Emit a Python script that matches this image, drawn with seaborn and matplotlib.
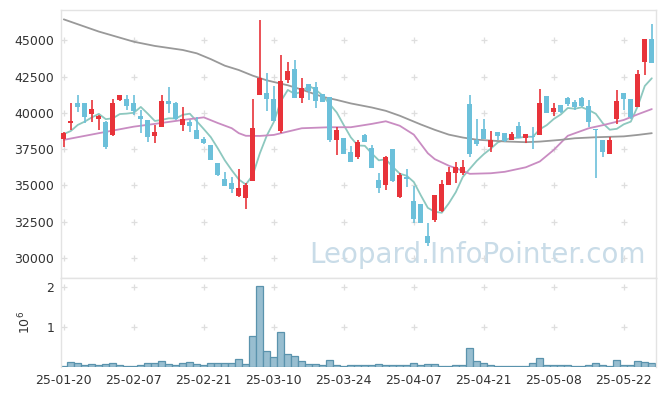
#!/usr/bin/env python3
"""
Candlestick chart with moving averages and volume.
"""
import matplotlib
matplotlib.use('Agg')
import matplotlib.pyplot as plt
import numpy as np
import pandas as pd
import seaborn as sns

# KRX trading days (market holidays removed)
holidays = ['2025-01-27', '2025-01-28', '2025-01-29', '2025-01-30',
            '2025-03-03', '2025-05-01', '2025-05-05', '2025-05-06']
trade_days = pd.bdate_range('2025-01-20', '2025-05-28', freq='C', holidays=holidays)
day_labels = list(trade_days.strftime('%y-%m-%d'))

open_price = [38171, 39329, 40648, 40648, 39954, 39600, 39375, 38495, 40857, 40972,
              40648, 39815, 39490, 38426, 39051, 40845, 40685, 39171, 39377, 38827,
              38207, 37794, 36556, 35454, 35179, 34239, 34101, 35340, 41258, 41350,
              40960, 38781, 42290, 43002, 41006, 41969, 41763, 41281, 41075, 38139,
              38253, 37336, 36992, 38483, 37565, 35386, 34996, 37496, 34238, 35569,
              33940, 33711, 31532, 32633, 33230, 35041, 35845, 35845, 40616, 38138,
              38895, 37680, 38689, 38620, 38138, 39101, 38253, 38414, 38482, 41166,
              40042, 40524, 41029, 40754, 41006, 40478, 38873, 38138, 37152, 39560,
              41350, 40960, 40432, 43529, 45089]
high_price = [38704, 40671, 41250, 40700, 40903, 39850, 39420, 40972, 41250, 41250,
              41250, 40208, 39520, 39167, 41204, 41763, 40777, 40433, 39515, 39744,
              38368, 37820, 36580, 35913, 35569, 36120, 35156, 40937, 46397, 42726,
              41855, 43965, 43529, 43644, 42428, 41990, 42130, 41300, 41100, 39010,
              38270, 37725, 38138, 38551, 37794, 35844, 37037, 37510, 35890, 36120,
              34927, 33720, 32403, 34353, 35386, 36300, 36601, 36762, 41212, 39606,
              39606, 38760, 38700, 38630, 38712, 39377, 38528, 39056, 41625, 41180,
              40662, 40530, 41120, 40891, 41120, 40891, 38890, 38150, 38368, 41579,
              41360, 40970, 42955, 45089, 46098]
low_price = [37662, 38819, 40093, 39282, 39398, 38830, 37477, 38403, 40820, 40208,
             39861, 38634, 37986, 37894, 39000, 39974, 39515, 38781, 38712, 38180,
             37863, 36760, 35661, 34950, 34491, 34200, 33367, 35340, 41258, 40157,
             39469, 38597, 42038, 41052, 40662, 40891, 40318, 40777, 38001, 37083,
             37175, 36647, 36808, 38024, 36188, 34468, 34697, 35271, 34124, 34881,
             32403, 32403, 30798, 32449, 33138, 34996, 35156, 35730, 36945, 37748,
             38230, 37335, 38138, 38024, 38138, 38253, 37909, 37496, 38482, 39973,
             39790, 39973, 40478, 40203, 40432, 39056, 35500, 36991, 37152, 39239,
             40203, 39560, 40432, 42612, 43460]
close_price = [38588, 39444, 40370, 39745, 40278, 39815, 37616, 40671, 41204, 40440,
               40116, 39606, 38333, 38704, 40833, 40639, 39561, 39584, 39102, 38207,
               37955, 36785, 35730, 34973, 34766, 34812, 35041, 38964, 42428, 40937,
               39469, 42199, 42864, 41052, 41694, 41511, 40845, 40777, 38139, 38827,
               37175, 36647, 37978, 38024, 36188, 34812, 36991, 35340, 35730, 35431,
               32701, 32403, 31027, 34353, 35100, 35936, 36257, 36257, 37175, 37863,
               38230, 38140, 38414, 38070, 38528, 38253, 38528, 38368, 40662, 39973,
               40363, 40088, 40593, 40386, 40501, 39377, 38827, 37335, 38138, 40822,
               40937, 39744, 42680, 45089, 43460]

# volume in millions of shares
volume_m = [0.03, 0.13, 0.11, 0.06, 0.08, 0.06, 0.08, 0.11, 0.06, 0.03,
            0.03, 0.06, 0.11, 0.11, 0.16, 0.08, 0.06, 0.11, 0.13, 0.08,
            0.06, 0.11, 0.11, 0.11, 0.11, 0.21, 0.08, 0.78, 2.03, 0.41,
            0.26, 0.88, 0.33, 0.28, 0.16, 0.08, 0.08, 0.06, 0.18, 0.05,
            0.03, 0.05, 0.05, 0.05, 0.05, 0.08, 0.05, 0.05, 0.05, 0.05,
            0.10, 0.05, 0.08, 0.08, 0.02, 0.02, 0.05, 0.05, 0.48, 0.16,
            0.10, 0.05, 0.02, 0.02, 0.02, 0.02, 0.02, 0.10, 0.22, 0.05,
            0.05, 0.05, 0.05, 0.02, 0.02, 0.05, 0.10, 0.05, 0.02, 0.18,
            0.05, 0.05, 0.16, 0.13, 0.10]

# moving averages
ma5 = [38540, 38750, 39170, 39400, 39685, 39930, 39565, 39625, 39917, 39949,
       40009, 40407, 39940, 39440, 39518, 39623, 39614, 39864, 39944, 39419,
       38882, 38327, 37556, 36730, 36042, 35413, 35064, 35711, 37202, 38436,
       39368, 40799, 41579, 41304, 41456, 41864, 41593, 41176, 40593, 40020,
       39153, 38313, 37753, 37730, 37202, 36730, 36799, 36271, 35812, 35661,
       35239, 34321, 33458, 33183, 33119, 33766, 34537, 35583, 36147, 36698,
       37156, 37533, 37964, 38143, 38276, 38281, 38359, 38349, 38868, 39157,
       39579, 39891, 40336, 40281, 40386, 40189, 39937, 39285, 38836, 38900,
       39212, 39395, 40464, 41854, 42382]
ma20_day = [0, 5, 10, 13, 17, 20, 22, 24, 25, 26, 28, 30, 32, 34, 38, 41, 44, 46,
            48, 50, 52, 53, 55, 56, 58, 61, 63, 66, 68, 70, 72, 75, 77, 80, 82, 84]
ma20 = [38140, 38600, 39050, 39240, 39510, 39690, 39300, 38940, 38600, 38420,
        38410, 38480, 38710, 38940, 39010, 39010, 39240, 39420, 39110, 38500,
        37220, 36810, 36360, 36190, 35800, 35840, 35940, 36250, 36650, 37450,
        38420, 38940, 39150, 39510, 39900, 40260]
ma120_day = [0, 5, 10, 13, 17, 19, 21, 23, 25, 27, 29, 32, 34, 37, 39, 41, 44,
             46, 48, 51, 53, 55, 57, 59, 61, 63, 66, 68, 71, 73, 76, 80, 82, 84]
ma120 = [46440, 45600, 44900, 44610, 44330, 44100, 43700, 43250, 42950, 42560,
         42240, 41900, 41600, 41100, 40890, 40650, 40370, 40140, 39800, 39200,
         38830, 38500, 38300, 38150, 38090, 38030, 37980, 38020, 38140, 38250,
         38320, 38380, 38480, 38600]

UP = '#e8333a'
DOWN = '#6cc0da'
TEXT = '#333333'
FRAME = '#e3e3e3'


def style_axes(ax):
    for side in ['left', 'top', 'right', 'bottom']:
        ax.spines[side].set_color(FRAME)
        ax.spines[side].set_linewidth(1.0)
    ax.tick_params(length=0, labelsize=9, colors=TEXT, pad=5)


def draw_crosses(ax, xs, ys):
    gx, gy = np.meshgrid(xs, ys)
    ax.scatter(gx.ravel(), gy.ravel(), marker='+', s=22, color='#dedede',
               linewidths=0.9, zorder=0)


def main():
    sns.set_theme(style='white')
    plt.rcParams['font.family'] = ['DejaVu Sans']

    df = pd.DataFrame({'day': day_labels, 'open': open_price, 'high': high_price,
                       'low': low_price, 'close': close_price, 'volume': volume_m})
    df['pos'] = np.arange(len(df))

    fig = plt.figure(figsize=(6.65, 3.96), dpi=100)
    ax = fig.add_axes([61 / 665, 1 - 278 / 396, 595 / 665, 268 / 396])
    axv = fig.add_axes([61 / 665, 1 - 367 / 396, 595 / 665, 89 / 396])

    # candles
    for is_up, color in [(True, UP), (False, DOWN)]:
        part = df[(df['close'] >= df['open']) == is_up]
        ax.vlines(part['pos'], part['low'], part['high'], color=color, lw=1.2, zorder=3)
        body_low = np.minimum(part['open'], part['close'])
        body_h = np.maximum((part['close'] - part['open']).abs(), 30)
        ax.bar(part['pos'], body_h, bottom=body_low, width=0.72, color=color,
               linewidth=0, zorder=3)

    # moving averages
    sns.lineplot(x=df['pos'], y=ma5, ax=ax, color='#8dc8bf', lw=1.3, zorder=2)
    sns.lineplot(x=ma20_day, y=ma20, ax=ax, color='#c98cc2', lw=1.3, zorder=2)
    sns.lineplot(x=ma120_day, y=ma120, ax=ax, color='#999999', lw=1.3, zorder=2)

    xt = list(range(0, len(df), 10))
    price_ticks = [30000, 32500, 35000, 37500, 40000, 42500, 45000]
    draw_crosses(ax, xt, price_ticks)

    ax.text(0.982, 0.055, 'Leopard.InfoPointer.com', transform=ax.transAxes,
            ha='right', va='baseline', fontsize=20, color='#c9dce8', zorder=0)

    ax.set_xlim(-0.4, 84.6)
    ax.set_ylim(28624, 47085)
    ax.set_yticks(price_ticks)
    ax.set_yticklabels([str(t) for t in price_ticks])
    ax.set_xticks(xt)
    ax.set_xticklabels([])
    ax.set_xlabel('')
    ax.set_ylabel('')
    style_axes(ax)

    # volume
    sns.barplot(data=df, x='day', y='volume', ax=axv, color='#98bed0',
                edgecolor='#5a93ad', linewidth=0.9, width=1.0, saturation=1,
                zorder=2)
    draw_crosses(axv, xt, [1, 2])
    axv.set_xlim(-0.4, 84.6)
    axv.set_ylim(0, 2.2325)
    axv.set_yticks([1, 2])
    axv.set_yticklabels(['1', '2'])
    axv.set_xticks(xt)
    axv.set_xticklabels([day_labels[i] for i in xt])
    axv.set_xlabel('')
    axv.set_ylabel('$10^6$', fontsize=9, color=TEXT, labelpad=9)
    style_axes(axv)
    axv.spines['bottom'].set_visible(False)

    fig.savefig('out.png', dpi=100)


if __name__ == '__main__':
    main()
